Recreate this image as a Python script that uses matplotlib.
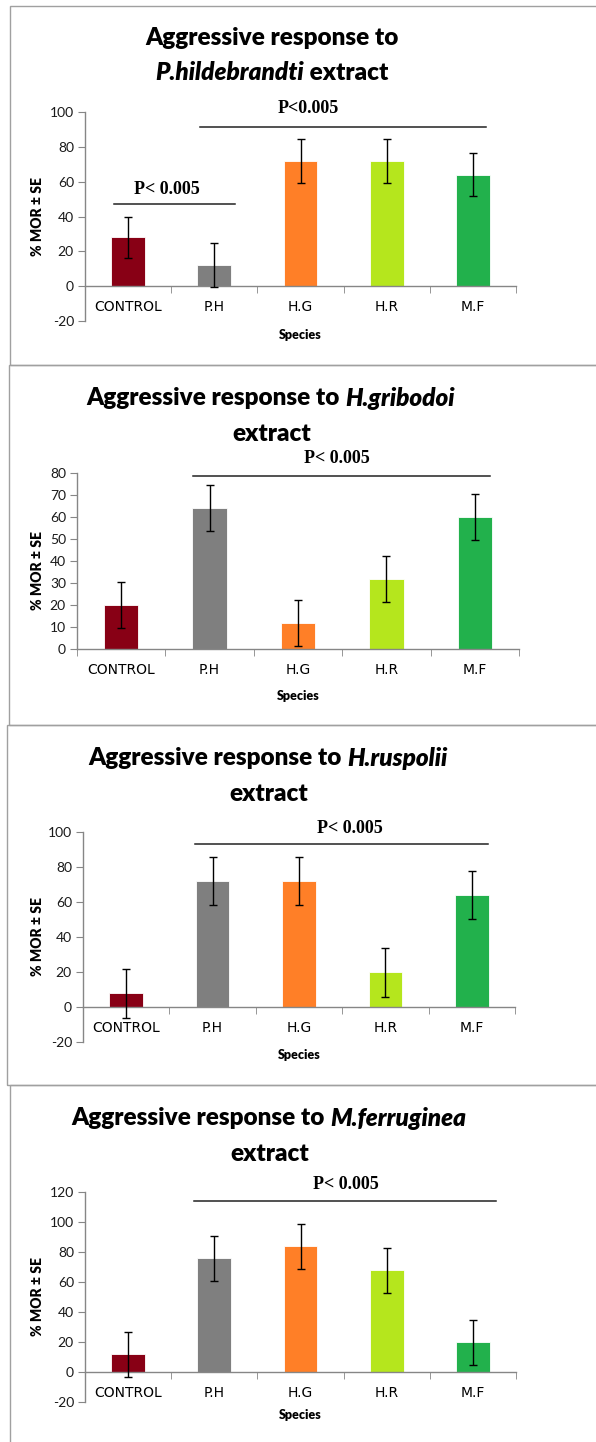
import matplotlib
matplotlib.use("Agg")
import matplotlib.pyplot as plt
from matplotlib.patches import Rectangle

W, H = 596, 1442
DPI = 100

categories = ["CONTROL", "P.H", "H.G", "H.R", "M.F"]
bar_colors = ["#880015", "#7F7F7F", "#FF7F27", "#B5E61D", "#22B14C"]

species = ["P.hildebrandti", "H.gribodoi", "H.ruspolii", "M.ferruginea"]

mor_ph = [28, 12, 72, 72, 64]
se_ph = [12, 12.5, 12.5, 12.5, 12.5]

mor_hg = [20, 64, 12, 32, 60]
se_hg = [10.5, 10.5, 10.5, 10.5, 10.5]

mor_hr = [8, 72, 72, 20, 64]
se_hr = [14, 13.5, 13.5, 14, 13.5]

mor_mf = [12, 76, 84, 68, 20]
se_mf = [15, 15, 15, 15, 15]

yticks_ph = [-20, 0, 20, 40, 60, 80, 100]
yticks_hg = [0, 10, 20, 30, 40, 50, 60, 70, 80]
yticks_hr = [-20, 0, 20, 40, 60, 80, 100]
yticks_mf = [-20, 0, 20, 40, 60, 80, 100, 120]

sig_label_a = "P<0.005"
sig_label_b = "P< 0.005"

TITLE_FONT = "Lato"
BODY_FONT = "Lato"
SIG_FONT = "Liberation Serif"
AXIS_GREY = "#868686"
TEXT_DARK = "#1a1a1a"

fig = plt.figure(figsize=(W / DPI, H / DPI), dpi=DPI)
fig.patch.set_facecolor("white")


def px_axes(left, right, top, bottom):
    return fig.add_axes([left / W, 1 - bottom / H, (right - left) / W, (bottom - top) / H])


def frame(x, top, bottom):
    fig.patches.append(Rectangle((x / W, 1 - bottom / H), 2, (bottom - top) / H,
                                 transform=fig.transFigure, fill=False,
                                 edgecolor="#A0A0A0", linewidth=1.0))


renderer = fig.canvas.get_renderer()


def rich_line(pieces, cx, cy, size):
    """Draw text pieces (string, style) side by side, centred at pixel (cx, cy)."""
    objs = []
    widths = []
    for s, style in pieces:
        t = fig.text(0, 0, s, fontsize=size, fontweight="heavy", fontstyle=style,
                     family=TITLE_FONT, va="center", ha="left", color="black")
        bb = t.get_window_extent(renderer=renderer)
        objs.append(t)
        widths.append(bb.width)
    total = sum(widths)
    x = cx - total / 2
    for t, w in zip(objs, widths):
        t.set_position((x / W, 1 - cy / H))
        x += w


def panel(values, errs, yticks, box, sigs, title_lines, ylab_y, xlab_y):
    left, right, top, bottom = box
    ax = px_axes(left, right, top, bottom)
    x = list(range(len(categories)))
    ax.bar(x, values, width=0.39, color=bar_colors, edgecolor="white", linewidth=0.6, zorder=2)
    ax.errorbar(x, values, yerr=errs, fmt="none", ecolor="black", elinewidth=1.0,
                capsize=3.2, capthick=1.0, zorder=3)
    ax.set_xlim(-0.5, len(categories) - 0.5)
    ax.set_ylim(yticks[0], yticks[-1])
    ax.set_yticks(yticks)
    ax.set_yticklabels([str(v) for v in yticks], family=BODY_FONT, fontsize=10, color=TEXT_DARK)
    ax.set_xticks(x)
    ax.set_xticklabels(categories, family=BODY_FONT, fontsize=8.8, color=TEXT_DARK)
    ax.set_xticks([i - 0.5 for i in range(len(categories) + 1)], minor=True)
    ax.tick_params(axis="x", which="major", length=0, pad=10)
    ax.tick_params(axis="x", which="minor", length=5, color=AXIS_GREY, direction="out")
    ax.tick_params(axis="y", length=5, color=AXIS_GREY, direction="out", pad=3)
    for s in ("top", "right"):
        ax.spines[s].set_visible(False)
    ax.spines["bottom"].set_position(("data", 0))
    for s in ("left", "bottom"):
        ax.spines[s].set_color(AXIS_GREY)
        ax.spines[s].set_linewidth(1.0)
    ax.set_facecolor("none")
    for x0, x1, yl, tx, ty, lab in sigs:
        ax.plot([x0, x1], [yl, yl], color="#222222", linewidth=1.1, clip_on=False, zorder=4)
        ax.text(tx, ty, lab, family=SIG_FONT, fontweight="bold", fontsize=13,
                ha="center", va="center", clip_on=False)
    for pieces, cx, cy in title_lines:
        rich_line(pieces, cx, cy, 17.5)
    fig.text(38 / W, 1 - ylab_y / H, "% MOR ± SE", rotation=90, family=BODY_FONT,
             fontweight="heavy", fontsize=10, ha="center", va="center")
    fig.text(((left + right) / 2) / W, 1 - xlab_y / H, "Species", family=BODY_FONT,
             fontweight="heavy", fontsize=9.0, ha="center", va="center")
    return ax


frame(10, 6, 365)
frame(9, 365, 725)
frame(7, 725, 1085)
frame(10, 1085, 1460)

panel(mor_ph, se_ph, yticks_ph, (85, 516, 112, 321),
      [(0.83, 4.15, 91.4, 2.09, 102, sig_label_a),
       (-0.16, 1.24, 47, 0.45, 55.7, sig_label_b)],
      [([("Aggressive response to", "normal")], 272, 38),
       ([(species[0], "italic"), (" extract", "normal")], 272, 73)],
      217, 335)

panel(mor_hg, se_hg, yticks_hg, (77, 519, 473, 649),
      [(0.81, 4.17, 78.6, 2.44, 86.4, sig_label_b)],
      [([("Aggressive response to ", "normal"), (species[1], "italic")], 271, 398),
       ([("extract", "normal")], 272, 434)],
      570, 696)

panel(mor_hr, se_hr, yticks_hr, (83, 515, 832, 1042),
      [(0.80, 4.19, 93, 2.59, 102, sig_label_b)],
      [([("Aggressive response to ", "normal"), (species[2], "italic")], 268, 758),
       ([("extract", "normal")], 269, 794)],
      937, 1055)

panel(mor_mf, se_mf, yticks_mf, (85, 516, 1192, 1402),
      [(0.76, 4.27, 114, 2.53, 124.7, sig_label_b)],
      [([("Aggressive response to ", "normal"), (species[3], "italic")], 269, 1118),
       ([("extract", "normal")], 270, 1154)],
      1297, 1415)

fig.savefig("out.png", dpi=DPI, facecolor="white")
